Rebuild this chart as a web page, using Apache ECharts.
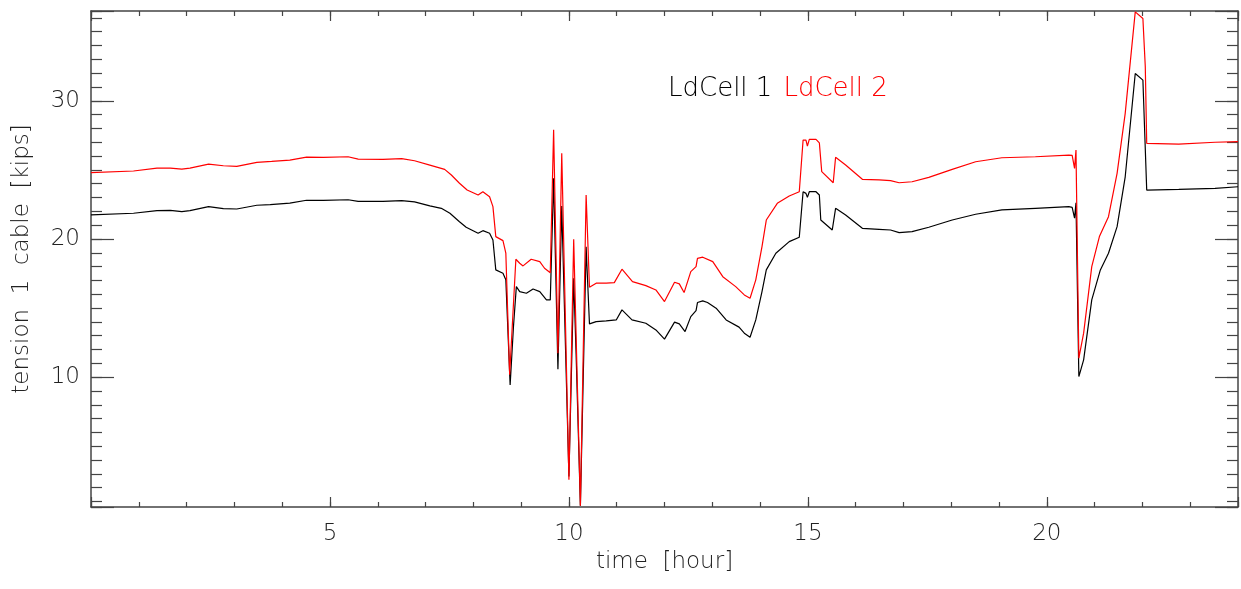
<!DOCTYPE html>
<html lang="en">
<head>
    <meta charset="UTF-8">
    <title>tension 1 cable</title>
    <script src="https://cdn.jsdelivr.net/npm/echarts@6.0.0/dist/echarts.min.js"></script>
    <style>
        html, body {
            margin: 0;
            padding: 0;
            background-color: white;
        }
        #chart {
            width: 1241px;
            height: 589px;
        }
    </style>
</head>
<body>
    <div id="chart"></div>

    <script>
        // LdCell 1 (black) - time [hour] / tension [kips]
        const ld1Time = [
            0.00, 0.89, 1.38, 1.66, 1.90, 2.07, 2.46, 2.77, 3.05, 3.47, 3.75, 4.16, 4.51, 4.86,
            5.38, 5.59, 6.11, 6.50, 6.77, 7.09, 7.33, 7.51, 7.71, 7.85, 8.10, 8.20, 8.34, 8.41,
            8.47, 8.62, 8.68, 8.77, 8.84, 8.90, 8.97, 9.11, 9.25, 9.39, 9.53, 9.61, 9.68, 9.77,
            9.85, 10.00, 10.10, 10.15, 10.24, 10.36, 10.43, 10.57, 10.78, 10.99, 11.11, 11.32,
            11.61, 11.82, 12.00, 12.21, 12.31, 12.43, 12.55, 12.66, 12.69, 12.80, 12.90, 13.08,
            13.29, 13.56, 13.67, 13.79, 13.91, 14.04, 14.13, 14.33, 14.61, 14.82, 14.90, 14.96,
            14.99, 15.03, 15.17, 15.24, 15.27, 15.51, 15.58, 15.79, 16.14, 16.49, 16.73, 16.91,
            17.18, 17.53, 18.02, 18.51, 19.06, 19.76, 20.46, 20.53, 20.58, 20.61, 20.67, 20.77,
            20.94, 21.12, 21.29, 21.47, 21.64, 21.85, 22.01, 22.09, 22.76, 23.52, 24.00
        ];
        const ld1Tension = [
            21.74, 21.86, 22.05, 22.07, 21.98, 22.05, 22.34, 22.19, 22.17, 22.44, 22.48, 22.60, 22.80, 22.80,
            22.84, 22.72, 22.72, 22.77, 22.68, 22.39, 22.22, 21.86, 21.25, 20.85, 20.41, 20.60, 20.41, 19.93,
            17.76, 17.52, 17.04, 9.44, 13.66, 16.55, 16.19, 16.07, 16.38, 16.19, 15.59, 15.59, 24.39, 10.58,
            22.39, 2.80, 17.16, 11.73, 0.70, 19.44, 13.85, 14.02, 14.07, 14.14, 14.87, 14.14,
            13.90, 13.42, 12.75, 13.98, 13.85, 13.30, 14.38, 14.82, 15.40, 15.52, 15.40, 14.99,
            14.14, 13.62, 13.18, 12.89, 14.14, 16.19, 17.76, 18.97, 19.81, 20.12, 23.42, 23.30,
            23.01, 23.42, 23.42, 23.18, 21.37, 20.65, 22.22, 21.73, 20.77, 20.70, 20.65, 20.46,
            20.53, 20.85, 21.37, 21.79, 22.10, 22.22, 22.34, 22.29, 21.50, 22.62, 10.04, 11.25,
            15.59, 17.76, 18.97, 20.89, 24.50, 31.98, 31.50, 23.54, 23.59, 23.66, 23.78
        ];

        // LdCell 2 (red)
        const ld2Time = [
            0.00, 0.89, 1.38, 1.66, 1.90, 2.07, 2.46, 2.77, 3.05, 3.47, 3.78, 4.16, 4.51, 4.86,
            5.38, 5.59, 6.11, 6.50, 6.77, 7.09, 7.40, 7.54, 7.71, 7.87, 8.10, 8.20, 8.34, 8.41,
            8.47, 8.62, 8.68, 8.76, 8.89, 8.97, 9.04, 9.21, 9.39, 9.49, 9.61, 9.68, 9.77, 9.85,
            10.00, 10.10, 10.24, 10.36, 10.43, 10.57, 10.78, 10.95, 11.11, 11.33, 11.61, 11.82,
            12.00, 12.21, 12.31, 12.41, 12.55, 12.66, 12.69, 12.80, 13.01, 13.22, 13.49, 13.67,
            13.79, 13.91, 14.04, 14.13, 14.36, 14.61, 14.82, 14.90, 14.96, 14.99, 15.03, 15.17,
            15.24, 15.29, 15.53, 15.58, 15.79, 16.14, 16.49, 16.73, 16.91, 17.18, 17.53, 18.02,
            18.51, 19.06, 19.76, 20.46, 20.53, 20.58, 20.61, 20.67, 20.77, 20.94, 21.10, 21.29,
            21.47, 21.64, 21.85, 22.01, 22.06, 22.09, 22.76, 23.52, 24.00
        ];
        const ld2Tension = [
            24.80, 24.92, 25.13, 25.13, 25.06, 25.13, 25.42, 25.30, 25.26, 25.55, 25.62, 25.71, 25.93, 25.90,
            25.95, 25.78, 25.76, 25.81, 25.66, 25.35, 25.04, 24.63, 24.03, 23.54, 23.18, 23.42, 23.06, 22.34,
            20.17, 19.88, 18.97, 10.17, 18.53, 18.24, 18.05, 18.53, 18.36, 17.88, 17.56, 27.90, 11.73, 26.20,
            2.57, 19.98, 0.70, 23.18, 16.50, 16.80, 16.80, 16.84, 17.81, 16.91, 16.62, 16.31,
            15.47, 16.87, 16.75, 16.12, 17.64, 18.00, 18.60, 18.68, 18.36, 17.27, 16.55, 15.95,
            15.71, 17.04, 19.44, 21.37, 22.58, 23.11, 23.42, 27.16, 27.16, 26.72, 27.21, 27.21,
            26.96, 24.87, 24.07, 25.91, 25.35, 24.32, 24.27, 24.22, 24.07, 24.14, 24.46, 25.04,
            25.59, 25.88, 25.95, 26.07, 26.05, 25.11, 26.43, 11.37, 13.18, 18.00, 20.17, 21.61,
            24.75, 29.09, 36.44, 35.96, 32.46, 26.92, 26.87, 27.00, 27.04
        ];

        const xMin = 0, xMax = 24;
        const yMin = 0.6, yMax = 36.5;

        const fontFamily = "'DejaVu Sans', sans-serif";
        const fontWeight = 200;
        const textColor = '#222';
        const lineColor = '#444';

        function pairs(xs, ys) {
            return xs.map((x, i) => [x, ys[i]]);
        }

        // tick-only axes (IDL style: ticks inside on all four sides)
        function xTicks(position, step, len, showLine) {
            return {
                type: 'value', position: position, min: xMin, max: xMax, interval: step,
                axisLine: { show: !!showLine, onZero: false, lineStyle: { color: lineColor, width: 1.5 } },
                axisTick: { inside: true, length: len, lineStyle: { color: lineColor, width: 1.2 } },
                axisLabel: { show: false },
                splitLine: { show: false }
            };
        }
        function yTicks(position, step, len, showLine) {
            return {
                type: 'value', position: position, min: yMin, max: yMax,
                minInterval: step, maxInterval: step, splitNumber: Math.round((yMax - yMin) / step),
                axisLine: { show: !!showLine, onZero: false, lineStyle: { color: lineColor, width: 1.5 } },
                axisTick: { inside: true, length: len, lineStyle: { color: lineColor, width: 1.2 } },
                axisLabel: { show: false },
                splitLine: { show: false }
            };
        }

        const chart = echarts.init(document.getElementById('chart'));
        const option = {
            animation: false,
            backgroundColor: '#fff',
            grid: { left: 91, top: 11, right: 3, bottom: 82 },
            legend: {
                left: 658,
                top: 71,
                icon: 'none',
                itemWidth: 0,
                itemGap: 6,
                textStyle: { fontSize: 26, fontFamily: fontFamily, fontWeight: fontWeight },
                data: [
                    { name: 'LdCell 1', textStyle: { color: '#000' } },
                    { name: 'LdCell 2', textStyle: { color: '#ff0000' } }
                ]
            },
            xAxis: [
                {
                    type: 'value', position: 'bottom', min: xMin, max: xMax, interval: 5,
                    name: 'time  [hour]',
                    nameLocation: 'middle',
                    nameGap: 44,
                    nameTextStyle: { fontSize: 23, color: textColor, fontFamily: fontFamily, fontWeight: fontWeight },
                    axisLine: { show: true, onZero: false, lineStyle: { color: lineColor, width: 1.5 } },
                    axisTick: { inside: true, length: 10, lineStyle: { color: lineColor, width: 1.2 } },
                    axisLabel: {
                        fontSize: 23, color: textColor, fontFamily: fontFamily, fontWeight: fontWeight, margin: 16,
                        formatter: v => (v > 0 && v % 5 === 0 ? String(v) : '')
                    },
                    splitLine: { show: false }
                },
                xTicks('bottom', 1, 5),
                xTicks('top', 5, 10, true),
                xTicks('top', 1, 5)
            ],
            yAxis: [
                {
                    type: 'value', position: 'left', min: yMin, max: yMax,
                    minInterval: 10, maxInterval: 10, splitNumber: 4,
                    name: 'tension  1  cable  [kips]',
                    nameLocation: 'middle',
                    nameGap: 57,
                    nameTextStyle: { fontSize: 23, color: textColor, fontFamily: fontFamily, fontWeight: fontWeight },
                    axisLine: { show: true, onZero: false, lineStyle: { color: lineColor, width: 1.5 } },
                    axisTick: { inside: true, length: 23, lineStyle: { color: lineColor, width: 1.2 } },
                    axisLabel: {
                        fontSize: 23, color: textColor, fontFamily: fontFamily, fontWeight: fontWeight, margin: 11,
                        formatter: v => (Math.abs(v % 10) < 1e-6 && v > 0 ? String(v) : '')
                    },
                    splitLine: { show: false }
                },
                yTicks('left', 1, 11),
                yTicks('right', 10, 23, true),
                yTicks('right', 1, 11)
            ],
            series: [
                {
                    name: 'LdCell 1',
                    type: 'line',
                    xAxisIndex: 0,
                    yAxisIndex: 0,
                    showSymbol: false,
                    clip: true,
                    color: '#000',
                    lineStyle: { color: '#000', width: 1.2 },
                    data: pairs(ld1Time, ld1Tension)
                },
                {
                    name: 'LdCell 2',
                    type: 'line',
                    xAxisIndex: 0,
                    yAxisIndex: 0,
                    showSymbol: false,
                    clip: true,
                    color: '#ff0000',
                    lineStyle: { color: '#ff0000', width: 1.2 },
                    data: pairs(ld2Time, ld2Tension)
                }
            ]
        };
        chart.setOption(option);
    </script>
</body>
</html>
